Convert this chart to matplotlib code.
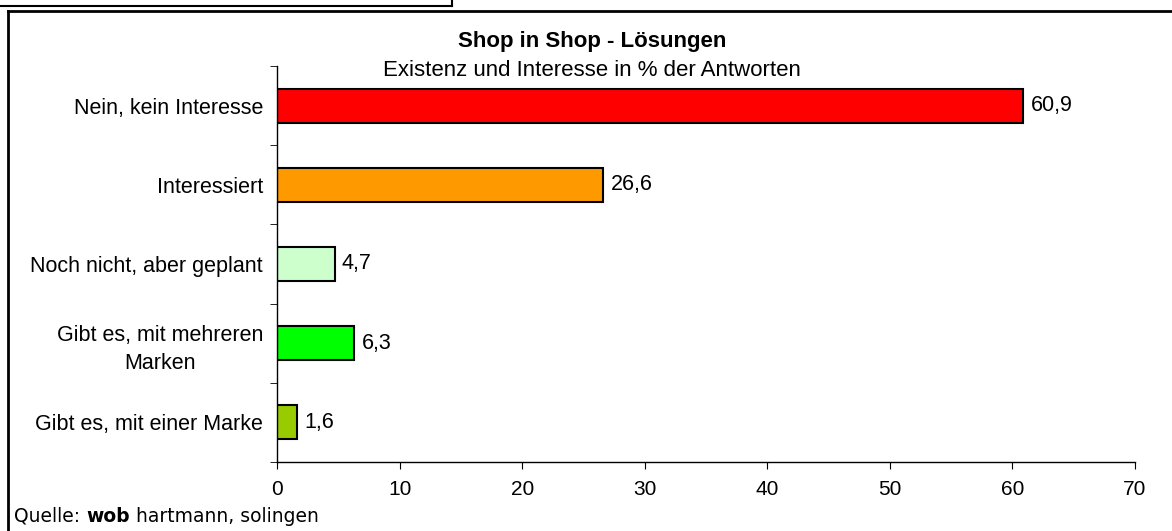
import matplotlib.pyplot as plt
from matplotlib.lines import Line2D
import numpy as np

plt.rcParams['font.family'] = ['Liberation Sans', 'DejaVu Sans']

categories = ["Nein, kein Interesse", "Interessiert", "Noch nicht, aber geplant",
              "Gibt es, mit mehreren\nMarken", "Gibt es, mit einer Marke"]
values = [60.9, 26.6, 4.7, 6.3, 1.6]
colors = ["#FF0000", "#FF9900", "#CCFFCC", "#00FF00", "#99CC00"]
xticks = [0, 10, 20, 30, 40, 50, 60, 70]

W, H = 1172, 531
fig = plt.figure(figsize=(W / 100, H / 100), dpi=100)
ax = fig.add_axes([277 / W, 69 / H, 858 / W, 396 / H])

y = np.arange(len(categories))
ax.barh(y, values, height=0.43, color=colors, edgecolor='black', linewidth=1.5)
for yi, v in zip(y, values):
    ax.text(v + 0.6, yi, f"{v:.1f}".replace('.', ','), va='center', ha='left', fontsize=15.5)

ax.set_ylim(len(categories) - 0.5, -0.5)
ax.set_xlim(0, 70)
ax.set_xticks(xticks)
ax.set_xticklabels([str(t) for t in xticks], fontsize=15)
ax.set_yticks(y)
ax.set_yticklabels(categories, fontsize=15.5, multialignment='center', linespacing=1.45)
ax.set_yticks(np.arange(-0.5, len(categories)), minor=True)
ax.tick_params(axis='y', which='major', length=0, pad=10)
ax.tick_params(axis='y', which='minor', length=5, direction='out')
ax.tick_params(axis='x', length=5, direction='out', pad=8)
for s in ['top', 'right']:
    ax.spines[s].set_visible(False)
for s in ['left', 'bottom']:
    ax.spines[s].set_linewidth(1.0)

fig.text(592 / W, 1 - 42 / H, "Shop in Shop - Lösungen", ha='center', va='center',
         fontsize=16, fontweight='bold')
fig.text(592 / W, 1 - 70 / H, "Existenz und Interesse in % der Antworten", ha='center',
         va='center', fontsize=16)

# frame lines
def px_line(x0, y0, x1, y1, lw=1.5):
    fig.add_artist(Line2D([x0 / W, x1 / W], [1 - y0 / H, 1 - y1 / H], color='black',
                          lw=lw, transform=fig.transFigure))

px_line(0, 6, 452, 6)
px_line(452, 0, 452, 6)
px_line(8, 11, W, 11, lw=2)
px_line(8, 11, 8, H, lw=2)

# source line, pieces placed one after another
pieces = [("Quelle: ", 'normal'), ("wob", 'bold'), (" hartmann, solingen", 'normal')]
x = 14
fig.canvas.draw()
renderer = fig.canvas.get_renderer()
for txt, wt in pieces:
    t = fig.text(x / W, 1 - 516 / H, txt, ha='left', va='center', fontsize=13.5,
                 family='DejaVu Sans', fontweight=wt)
    bb = t.get_window_extent(renderer)
    x += bb.width

fig.savefig("out.png", dpi=100)
